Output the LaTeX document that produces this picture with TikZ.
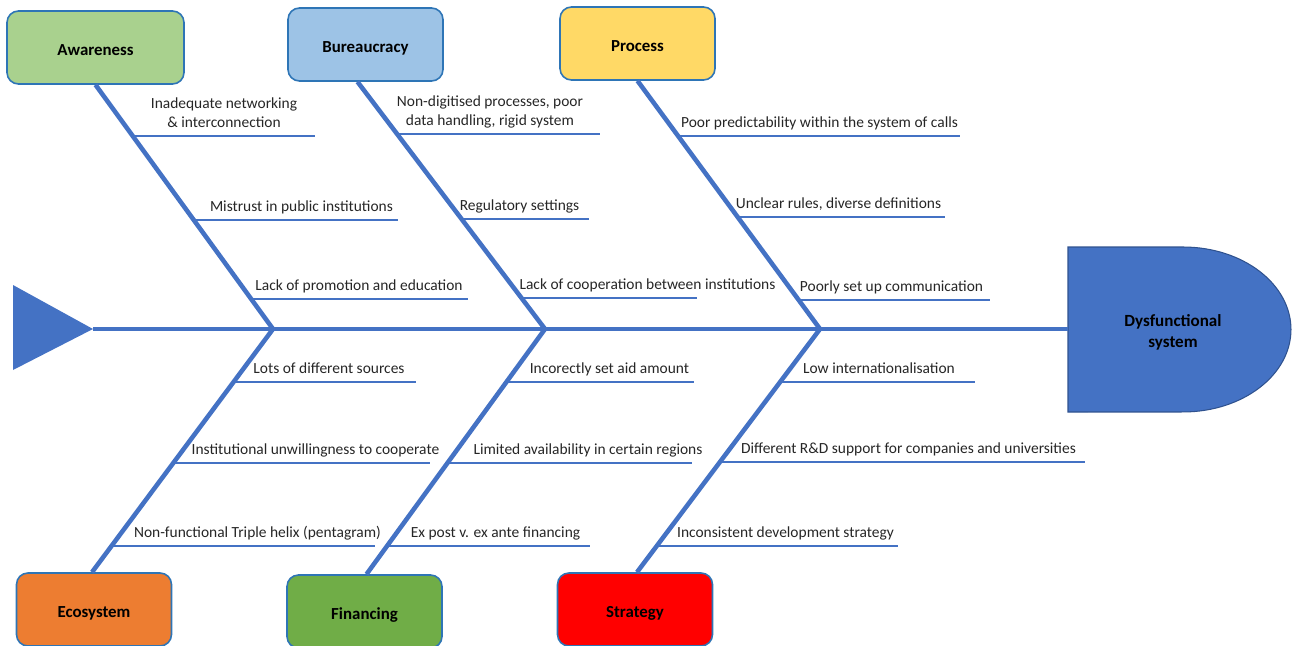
\documentclass[tikz,border=0pt]{standalone}
\usepackage{fontspec}
\setmainfont{Carlito}
\usepackage{tikz}
\usetikzlibrary{calc}

\definecolor{graetenblau}{HTML}{4472C4}
\definecolor{rahmenblau}{HTML}{2E75B6}
\definecolor{kopfrand}{HTML}{2F528F}
\definecolor{awgruen}{HTML}{A9D18E}
\definecolor{bublau}{HTML}{9DC3E6}
\definecolor{prgelb}{HTML}{FFD966}
\definecolor{ecorange}{HTML}{ED7D31}
\definecolor{figruen}{HTML}{70AD47}

\begin{document}
\begin{tikzpicture}[x=0.02cm, y=-0.02cm,
    kategorie/.style={draw=rahmenblau, line width=0.9pt, rounded corners=6.5pt,
        minimum width=3.1cm, minimum height=1.46cm,
        text height=9.5pt, text depth=0pt,
        font=\bfseries\fontsize{9.6}{12}\selectfont},
    graete/.style={graetenblau, line width=2.6pt},
    nebengraete/.style={graetenblau, line width=1.1pt},
    ursache/.style={text=black!85, font=\fontsize{8.8}{10.8}\selectfont,
        inner sep=0pt, text depth=0.25em, anchor=south, align=center}
    ]
    \useasboundingbox (0,0) rectangle (1292,646);

    % Schwanz und Kopf des Fisches
    \coordinate (tail) at (93,329);
    \fill[graetenblau] (13,285) -- (tail) -- (13,370) -- cycle;
    \draw[kopfrand, fill=graetenblau, line width=0.6pt]
        (1068,247) -- (1183,247) arc[start angle=90, end angle=-90,
        x radius=2.16cm, y radius=1.65cm] -- (1068,412) -- cycle;
    \coordinate (kopf) at (1068,329);
    \node[font=\bfseries\fontsize{9.7}{12}\selectfont, align=center] (effekt)
        at (1173,332) {Dysfunctional\\system};

    % Rueckgrat mit Abzweigpunkten
    \coordinate (j1) at (273,329);
    \coordinate (j2) at (545,329);
    \coordinate (j3) at (820,329);
    \draw[graete] (tail) -- (kopf);

    % Kategorien oben
    \node[kategorie, fill=awgruen, minimum width=3.54cm] (aw) at (95.5,47.5) {Awareness};
    \node[kategorie, fill=bublau] (bu) at (365.5,44.5) {Bureaucracy};
    \node[kategorie, fill=prgelb] (pr) at (637.5,43.5) {Process};

    % Kategorien unten
    \node[kategorie, fill=ecorange] (ec) at (94,609.5) {Ecosystem};
    \node[kategorie, fill=figruen] (fi) at (364.5,611.5) {Financing};
    \node[kategorie, fill=red] (st) at (635,609.5) {Strategy};

    % Hauptgraeten
    \draw[graete] (j1) -- (aw.south);
    \draw[graete] (j2) -- ($(bu.south)+(-8,0)$);
    \draw[graete] (j3) -- (pr.south);
    \draw[graete] (j1) -- ($(ec.north)+(-2,0)$);
    \draw[graete] (j2) -- ($(fi.north)+(2,0)$);
    \draw[graete] (j3) -- ($(st.north)+(2,0)$);

    % Ursachen Awareness
    \coordinate (a1s) at (134,136); \coordinate (a1e) at (315,136);
    \draw[nebengraete] (a1s) -- (a1e);
    \node[ursache] (a1) at (224,132) {Inadequate networking\\\& interconnection};
    \coordinate (a2s) at (194,220); \coordinate (a2e) at (398,220);
    \draw[nebengraete] (a2s) -- (a2e);
    \node[ursache] (a2) at (301.5,216) {Mistrust in public institutions};
    \coordinate (a3s) at (251,299); \coordinate (a3e) at (468,299);
    \draw[nebengraete] (a3s) -- (a3e);
    \node[ursache] (a3) at (359,295) {Lack of promotion and education};

    % Ursachen Bureaucracy
    \coordinate (b1s) at (397,134); \coordinate (b1e) at (600,134);
    \draw[nebengraete] (b1s) -- (b1e);
    \node[ursache] (b1) at (490,130) {Non-digitised processes, poor\\data handling, rigid system};
    \coordinate (b2s) at (462,219); \coordinate (b2e) at (589,219);
    \draw[nebengraete] (b2s) -- (b2e);
    \node[ursache] (b2) at (519.5,215) {Regulatory settings};
    \coordinate (b3s) at (521,298); \coordinate (b3e) at (697,298);
    \draw[nebengraete] (b3s) -- (b3e);
    \node[ursache] (b3) at (647.5,294) {Lack of cooperation between institutions};

    % Ursachen Process
    \coordinate (c1s) at (679,136); \coordinate (c1e) at (960,136);
    \draw[nebengraete] (c1s) -- (c1e);
    \node[ursache] (c1) at (819.5,132) {Poor predictability within the system of calls};
    \coordinate (c2s) at (738,217); \coordinate (c2e) at (945,217);
    \draw[nebengraete] (c2s) -- (c2e);
    \node[ursache] (c2) at (838.5,213) {Unclear rules, diverse definitions};
    \coordinate (c3s) at (799,300); \coordinate (c3e) at (990,300);
    \draw[nebengraete] (c3s) -- (c3e);
    \node[ursache] (c3) at (891.5,296) {Poorly set up communication};

    % Ursachen Ecosystem
    \coordinate (e1s) at (234,382); \coordinate (e1e) at (416,382);
    \draw[nebengraete] (e1s) -- (e1e);
    \node[ursache] (e1) at (329,378) {Lots of different sources};
    \coordinate (e2s) at (174,463); \coordinate (e2e) at (430,463);
    \draw[nebengraete] (e2s) -- (e2e);
    \node[ursache] (e2) at (315.5,459) {Institutional unwillingness to cooperate};
    \coordinate (e3s) at (112,546); \coordinate (e3e) at (375,546);
    \draw[nebengraete] (e3s) -- (e3e);
    \node[ursache] (e3) at (257.5,542) {Non-functional Triple helix (pentagram)};

    % Ursachen Financing
    \coordinate (f1s) at (507,382); \coordinate (f1e) at (694,382);
    \draw[nebengraete] (f1s) -- (f1e);
    \node[ursache] (f1) at (609.5,378) {Incorectly set aid amount};
    \coordinate (f2s) at (448,463); \coordinate (f2e) at (692,463);
    \draw[nebengraete] (f2s) -- (f2e);
    \node[ursache] (f2) at (588,459) {Limited availability in certain regions};
    \coordinate (f3s) at (388,546); \coordinate (f3e) at (590,546);
    \draw[nebengraete] (f3s) -- (f3e);
    \node[ursache] (f3) at (495.5,542) {Ex post v. ex ante financing};

    % Ursachen Strategy
    \coordinate (s1s) at (780,382); \coordinate (s1e) at (975,382);
    \draw[nebengraete] (s1s) -- (s1e);
    \node[ursache] (s1) at (879,378) {Low internationalisation};
    \coordinate (s2s) at (720,462); \coordinate (s2e) at (1085,462);
    \draw[nebengraete] (s2s) -- (s2e);
    \node[ursache] (s2) at (908.5,458) {Different R\&D support for companies and universities};
    \coordinate (s3s) at (657,546); \coordinate (s3e) at (898,546);
    \draw[nebengraete] (s3s) -- (s3e);
    \node[ursache] (s3) at (785.5,542) {Inconsistent development strategy};

\end{tikzpicture}
\end{document}
